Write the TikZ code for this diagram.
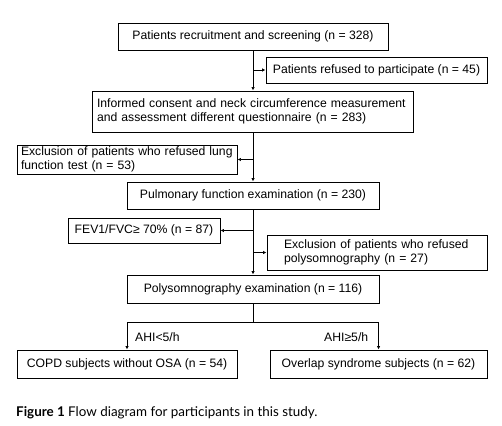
\documentclass[tikz,border=0pt]{standalone}
\usepackage{fontspec}
\setmainfont{Liberation Sans}
\newfontfamily\capfont{Lato}
\usetikzlibrary{arrows.meta}
\begin{document}
\begin{tikzpicture}[x=1pt,y=-1pt,
  box/.style={draw,line width=0.9pt,inner sep=0pt,font=\fontsize{12.2}{14.5}\selectfont},
  arr/.style={line width=0.9pt,-{Latex[length=3.5pt,width=3.5pt]}},
  ln/.style={line width=0.9pt},
  lbl/.style={inner sep=0pt,font=\fontsize{12.2}{14.5}\selectfont}]
\useasboundingbox (0,0) rectangle (502,425);
\node[box,minimum width=270,minimum height=27] (b1) at (253,36.5) {Patients recruitment and screening (n = 328)};
\node[box,minimum width=221,minimum height=26] (b2) at (376.5,70) {Patients refused to participate (n = 45)};
\node[box,minimum width=321,minimum height=41,text width=311,align=left] (b3) at (252.5,111.5) {Informed consent and neck circumference measurement\\and assessment different questionnaire (n = 283)};
\node[box,minimum width=220,minimum height=29,text width=212,align=left] (b4) at (127,159.5) {Exclusion of patients who refused lung\\function test (n = 53)};
\node[box,minimum width=252,minimum height=27] (b5) at (253,195.5) {Pulmonary function examination (n = 230)};
\node[box,minimum width=152,minimum height=25] (b6) at (144,230.5) {FEV1/FVC≥ 70\% (n = 87)};
\node[box,minimum width=220,minimum height=35,text width=186,align=left] (b7) at (377,252.5) {Exclusion of patients who refused\\polysomnography (n = 27)};
\node[box,minimum width=252,minimum height=28] (b8) at (253,289) {Polysomnography examination (n = 116)};
\node[box,minimum width=220,minimum height=28] (b9) at (127,364) {COPD subjects without OSA (n = 54)};
\node[box,minimum width=217,minimum height=28] (b10) at (378.5,364) {Overlap syndrome subjects (n = 62)};
\coordinate (m) at (253,0);
% main spine
\draw[arr] (b1.south -| m) -- (b3.north -| m);
\draw[arr] (m |- b2.west) -- (b2.west);
\draw[arr] (b3.south -| m) -- (b5.north -| m);
\draw[arr] (m |- b4.east) -- (b4.east);
\draw[arr] (b5.south -| m) -- (b8.north -| m);
\draw[arr] (m |- b6.east) -- (b6.east);
\draw[arr] (m |- b7.west) -- (b7.west);
% branch
\coordinate (j) at (253,322);
\draw[ln] (b8.south -| m) -- (j);
\draw[ln] (b9.north |- j) -- (b10.north |- j);
\draw[arr] (b9.north |- j) -- (b9.north);
\draw[arr] (b10.north |- j) -- (b10.north);
\node[lbl,anchor=west] (l1) at (135,337) {AHI<5/h};
\node[lbl,anchor=west] (l2) at (324,337) {AHI≥5/h};
\node[inner sep=0pt,anchor=base west,font=\capfont\fontsize{13.4}{15}\selectfont] (cap) at (16,416) {\textbf{Figure 1} Flow diagram for participants in this study.};
\end{tikzpicture}
\end{document}
